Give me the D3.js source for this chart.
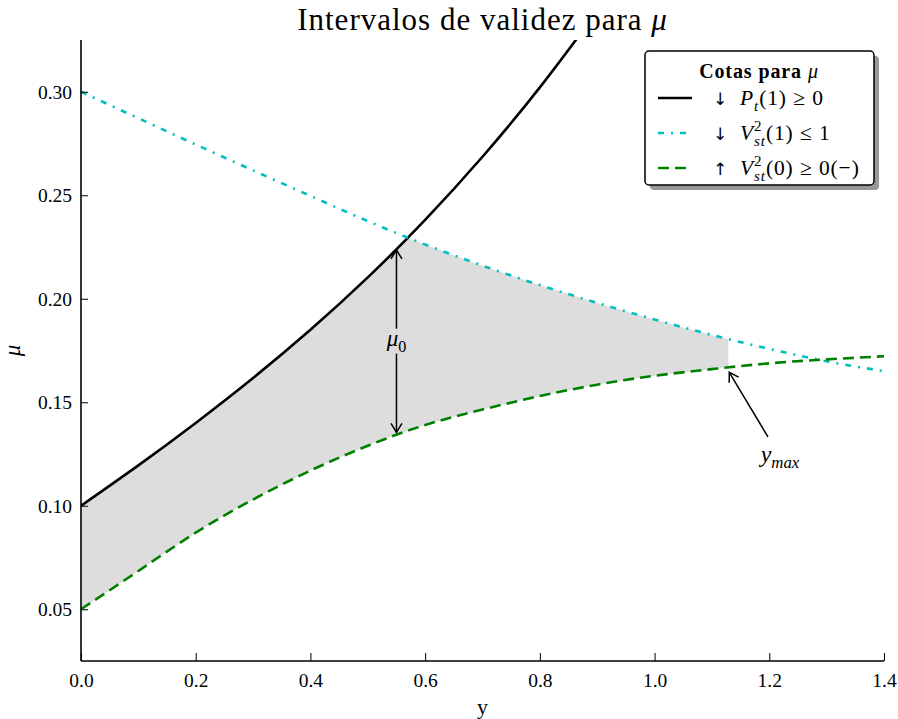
<!DOCTYPE html>
<html>
<head>
<meta charset="utf-8">
<script src="https://cdn.jsdelivr.net/npm/d3@7"></script>
<style>
    body { margin: 0; background: #fff; }
    text { font-family: 'Liberation Serif', 'DejaVu Serif', serif; fill: #000; white-space: pre; }
</style>
</head>
<body>
<div id="chart"></div>
<script>

// x grid of the three bounds (y)
var xsBlack = [0, 0.1, 0.2, 0.3, 0.4, 0.5, 0.6, 0.7, 0.8, 0.9];
var muBlack = [0.100, 0.1195, 0.140, 0.1617, 0.185, 0.2103, 0.2381, 0.2686, 0.3021, 0.3389];

var xsCyan = [0, 0.1, 0.2, 0.3, 0.4, 0.5, 0.6, 0.7, 0.8, 0.9, 1.0, 1.1, 1.2, 1.3, 1.4];
var muCyan = [0.300, 0.2872, 0.2745, 0.262, 0.2497, 0.2375, 0.2262, 0.2160, 0.2066, 0.1980, 0.1900, 0.1825, 0.1758, 0.1698, 0.1650];

var xsGreen = [0, 0.1, 0.2, 0.3, 0.4, 0.5, 0.6, 0.7, 0.8, 0.9, 1.0, 1.1, 1.2, 1.3, 1.4];
var muGreen = [0.050, 0.0685, 0.087, 0.103, 0.117, 0.129, 0.139, 0.1465, 0.153, 0.1585, 0.1628, 0.166, 0.1688, 0.1707, 0.1722];

// annotations
var mu0X = 0.55, mu0Top = 0.2255, mu0Bottom = 0.134;
var yMaxX = 1.1285, yMaxMu = 0.1664;
var yMaxTextX = 1.2186, yMaxTextMu = 0.1236;

var xTicks = [0, 0.2, 0.4, 0.6, 0.8, 1.0, 1.2, 1.4];
var yTicks = [0.05, 0.10, 0.15, 0.20, 0.25, 0.30];

var margin = {top: 40, right: 14, bottom: 58, left: 81},
    width = 898 - margin.left - margin.right,
    height = 719 - margin.top - margin.bottom;

var x = d3.scaleLinear().domain([0, 1.4]).range([0, width]);
var y = d3.scaleLinear().domain([0.025, 0.325]).range([height, 0]);

var svg = d3.select("#chart").append("svg")
    .attr("width", 898)
    .attr("height", 719);

var defs = svg.append("defs");

defs.append("marker")
    .attr("id", "head")
    .attr("viewBox", "-12 -7 14 14")
    .attr("refX", 0).attr("refY", 0)
    .attr("markerWidth", 14).attr("markerHeight", 14)
    .attr("markerUnits", "userSpaceOnUse")
    .attr("orient", "auto")
    .append("path")
    .attr("d", "M-9,-5.5L0,0L-9,5.5")
    .style("fill", "none")
    .style("stroke", "#000")
    .style("stroke-width", 1.5);

var g = svg.append("g")
    .attr("transform", "translate(" + margin.left + "," + margin.top + ")");

function zip(xs, ms) {
    return xs.map(function (d, i) { return {x: d, mu: ms[i]}; });
}

var black = zip(xsBlack, muBlack),
    cyan = zip(xsCyan, muCyan),
    green = zip(xsGreen, muGreen);

var curve = d3.curveNatural;

var line = d3.line()
    .curve(curve)
    .x(function (d) { return x(d.x); })
    .y(function (d) { return y(d.mu); });

// clip paths for the valid region
defs.append("clipPath").attr("id", "plotClip")
    .append("rect").attr("width", width).attr("height", height);

defs.append("clipPath").attr("id", "belowCyan")
    .append("path")
    .attr("d", d3.area().curve(curve)
        .x(function (d) { return x(d.x); })
        .y0(height)
        .y1(function (d) { return y(d.mu); })(cyan));

var belowBlack = defs.append("clipPath").attr("id", "belowBlack");
belowBlack.append("path")
    .attr("d", d3.area().curve(curve)
        .x(function (d) { return x(d.x); })
        .y0(height)
        .y1(function (d) { return y(d.mu); })(black));
belowBlack.append("rect")
    .attr("x", x(xsBlack[xsBlack.length - 1]))
    .attr("width", width)
    .attr("height", height);

defs.append("clipPath").attr("id", "leftOfMax")
    .append("rect").attr("width", x(yMaxX)).attr("height", height);

g.append("g").attr("clip-path", "url(#leftOfMax)")
    .append("g").attr("clip-path", "url(#belowCyan)")
    .append("g").attr("clip-path", "url(#belowBlack)")
    .append("path")
    .attr("d", d3.area().curve(curve)
        .x(function (d) { return x(d.x); })
        .y0(function (d) { return y(d.mu); })
        .y1(0)(green))
    .style("fill", "#dddddd")
    .style("stroke", "none");

// bounds
var lines = g.append("g").attr("clip-path", "url(#plotClip)");

lines.append("path")
    .datum(black)
    .attr("d", line)
    .style("fill", "none")
    .style("stroke", "#000")
    .style("stroke-width", 2.6);

lines.append("path")
    .datum(cyan)
    .attr("d", line)
    .style("fill", "none")
    .style("stroke", "#00bfbf")
    .style("stroke-width", 2.6)
    .style("stroke-dasharray", "6,7,2,7");

lines.append("path")
    .datum(green)
    .attr("d", line)
    .style("fill", "none")
    .style("stroke", "#008000")
    .style("stroke-width", 2.6)
    .style("stroke-dasharray", "11,6");

// axes
var xAxis = d3.axisBottom(x).tickValues(xTicks).tickFormat(d3.format(".1f"))
    .tickSizeInner(-8).tickSizeOuter(0).tickPadding(12);
var yAxis = d3.axisLeft(y).tickValues(yTicks).tickFormat(d3.format(".2f"))
    .tickSizeInner(-7).tickSizeOuter(0).tickPadding(9);

var gx = g.append("g")
    .attr("transform", "translate(0," + height + ")")
    .call(xAxis);
var gy = g.append("g").call(yAxis);

[gx, gy].forEach(function (a) {
    a.select(".domain").style("stroke", "#000").style("stroke-width", 1.6);
    a.selectAll(".tick line").style("stroke", "#000").style("stroke-width", 1);
    a.selectAll(".tick text")
        .style("font-family", "'Liberation Serif', serif")
        .style("font-size", "19.5px");
});
gx.select(".domain").attr("d", "M0,0H" + width);
gy.select(".domain").attr("d", "M0," + height + "V0");

// axis labels
svg.append("text")
    .attr("x", margin.left + width / 2)
    .attr("y", 714)
    .style("text-anchor", "middle")
    .style("font-size", "22px")
    .text("y");

svg.append("text")
    .attr("transform", "translate(20," + (margin.top + y(0.175)) + ") rotate(-90)")
    .style("text-anchor", "middle")
    .style("font-size", "23px")
    .style("font-style", "italic")
    .text("μ");

// math-ish text: one text element, pieces as tspans
function mathText(parent, px, py, parts, size, anchor, spacing) {
    var t = parent.append("text")
        .attr("x", px)
        .attr("y", py)
        .attr("xml:space", "preserve")
        .style("font-size", size + "px")
        .style("letter-spacing", (spacing || 0) + "px")
        .style("text-anchor", anchor || "start");
    var curDy = 0, prevW = 0, owe = 0;
    parts.forEach(function (p) {
        var small = p.sup || p.sub;
        var d = p.sup ? -size * 0.4 : (p.sub ? size * 0.27 : 0);
        var s = t.append("tspan")
            .attr("dy", d - curDy)
            .style("font-size", (small ? size * 0.7 : size) + "px")
            .style("font-style", p.it ? "italic" : "normal")
            .style("font-weight", p.bold ? "bold" : "normal")
            .text(p.t);
        curDy = d;
        if (p.stack) {
            s.attr("dx", -prevW);
            var w = s.node().getComputedTextLength();
            owe = Math.max(0, prevW - w);
        } else {
            if (owe) { s.attr("dx", owe); owe = 0; }
            prevW = s.node().getComputedTextLength();
        }
    });
    return t;
}

// title
mathText(svg, margin.left + width / 2, 30, [
    {t: "Intervalos de validez para "},
    {t: "μ", it: true}
], 31, "middle", 1);

// mu0 annotation
var mu0Mid = (mu0Top + mu0Bottom) / 2;
g.append("line")
    .attr("x1", x(mu0X)).attr("y1", y(mu0Mid) - 12)
    .attr("x2", x(mu0X)).attr("y2", y(mu0Top) + 4)
    .style("stroke", "#000").style("stroke-width", 1.5)
    .attr("marker-end", "url(#head)");
g.append("line")
    .attr("x1", x(mu0X)).attr("y1", y(mu0Mid) + 13)
    .attr("x2", x(mu0X)).attr("y2", y(mu0Bottom) - 3)
    .style("stroke", "#000").style("stroke-width", 1.5)
    .attr("marker-end", "url(#head)");
mathText(g, x(mu0X), y(mu0Mid) + 5, [
    {t: "μ", it: true},
    {t: "0", sub: true}
], 23, "middle");

// ymax annotation
var tx = x(yMaxTextX), ty = y(yMaxTextMu);
var px = x(yMaxX), py = y(yMaxMu);
g.append("line")
    .attr("x1", tx - 12).attr("y1", ty - 20)
    .attr("x2", px + 1).attr("y2", py + 4)
    .style("stroke", "#000").style("stroke-width", 1.5)
    .attr("marker-end", "url(#head)");
mathText(g, tx, ty + 5, [
    {t: "y", it: true},
    {t: "max", sub: true, it: true}
], 24, "middle");

// legend
var legend = svg.append("g").attr("transform", "translate(645,51)");
legend.append("rect")
    .attr("x", 5).attr("y", 5)
    .attr("width", 229).attr("height", 134)
    .attr("rx", 4)
    .style("fill", "#555")
    .style("opacity", 0.6);
legend.append("rect")
    .attr("width", 229).attr("height", 134)
    .attr("rx", 4)
    .style("fill", "#fff")
    .style("stroke", "#000")
    .style("stroke-width", 1.5);

mathText(legend, 114, 27, [
    {t: "Cotas para ", bold: true},
    {t: "μ", it: true}
], 20, "middle", 0.9);

var legendColors = ["#000", "#00bfbf", "#008000"];
var legendDash = [null, "6,7,2,7", "11,6"];
var legendArrows = ["↓", "↓", "↑"];
var legendParts = [
    [{t: "P", it: true}, {t: "t", sub: true, it: true}, {t: "(1) ≥ 0"}],
    [{t: "V", it: true}, {t: "2", sup: true}, {t: "st", sub: true, it: true, stack: true}, {t: "(1) ≤ 1"}],
    [{t: "V", it: true}, {t: "2", sup: true}, {t: "st", sub: true, it: true, stack: true}, {t: "(0) ≥ 0(−)"}]
];

legendParts.forEach(function (parts, i) {
    var ly = 47 + i * 35;
    legend.append("line")
        .attr("x1", 13).attr("x2", 47)
        .attr("y1", ly).attr("y2", ly)
        .style("stroke", legendColors[i])
        .style("stroke-width", 2.6)
        .style("stroke-dasharray", legendDash[i]);
    legend.append("text")
        .attr("x", 75).attr("y", ly + 7)
        .style("font-family", "'DejaVu Sans', sans-serif")
        .style("font-size", "17px")
        .style("text-anchor", "middle")
        .text(legendArrows[i]);
    mathText(legend, 95, ly + 7, parts, 21.5, "start", 0.9);
});

</script>
</body>
</html>
